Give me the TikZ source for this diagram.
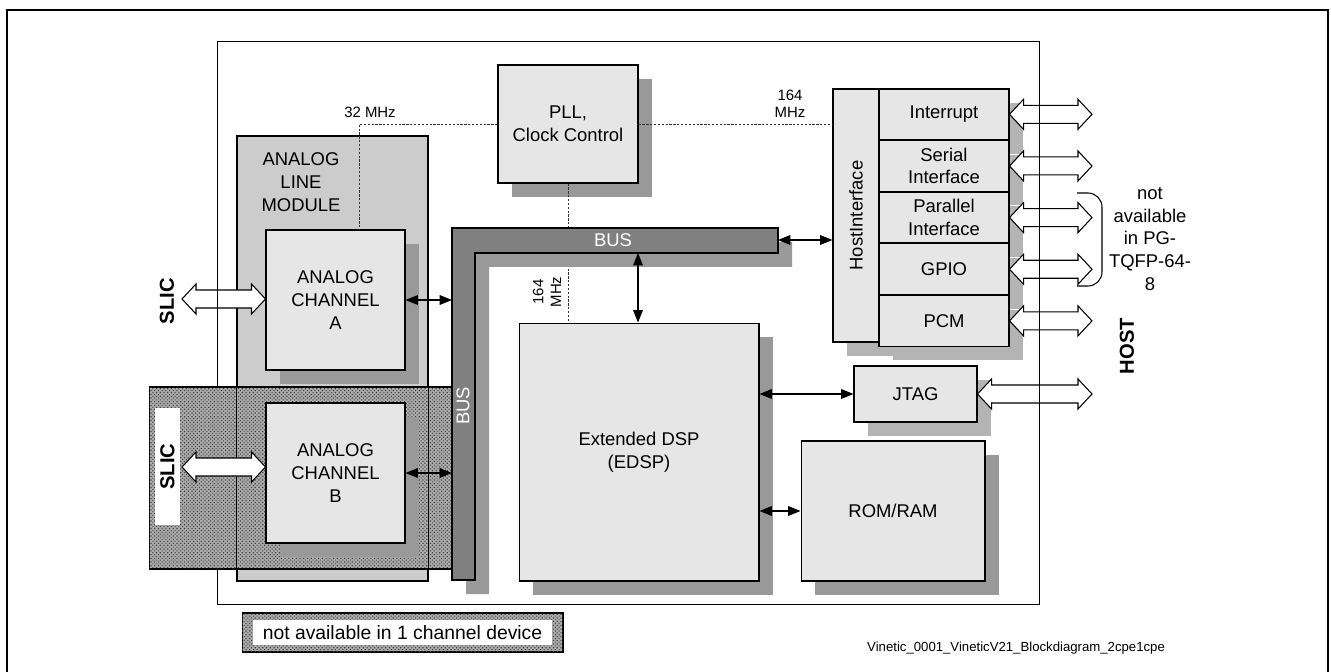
\documentclass[tikz,border=0pt]{standalone}
\definecolor{boxGray}{RGB}{230,230,230}
\definecolor{moduleGray}{RGB}{204,204,204}
\definecolor{shadowDark}{RGB}{153,153,153}
\definecolor{shadowLight}{RGB}{180,180,180}
\definecolor{busGray}{RGB}{128,128,128}
\usepackage{fontspec}
\setmainfont{Liberation Sans}
\usepackage{tikz}
\usetikzlibrary{arrows.meta,positioning,calc,shadows,patterns.meta}

\begin{document}
\begin{tikzpicture}[x=0.02cm, y=-0.02cm,
        block/.style={draw, fill=boxGray, semithick, inner sep=1pt, align=center,
          font=\fontsize{10.5}{13}\selectfont,
          drop shadow={shadow xshift=0.28cm, shadow yshift=-0.28cm, opacity=1, fill=#1}},
        block/.default=shadowDark,
        hostrow/.style={block=shadowLight, minimum width=2.6cm, minimum height=1.012cm},
        hatched/.style={draw, semithick, fill=black!33,
          postaction={pattern={Dots[distance=1.5pt, radius=0.45pt, angle=45]}, pattern color=black!75}},
        clk/.style={dash pattern=on 1.3pt off 0.9pt, line width=0.55pt, black!80},
        link/.style={<->, semithick},
        fatarrow/.style={draw, fill=white, semithick, to path={
          -- ($(\tikztostart)+(14,-15)$) -- ($(\tikztostart)+(14,-9)$)
          -- ($(\tikztotarget)+(-14,-9)$) -- ($(\tikztotarget)+(-14,-15)$)
          -- (\tikztotarget)
          -- ($(\tikztotarget)+(-14,15)$) -- ($(\tikztotarget)+(-14,9)$)
          -- ($(\tikztostart)+(14,9)$) -- ($(\tikztostart)+(14,15)$) -- cycle}},
        lbl/.style={font=\fontsize{10.5}{13}\selectfont, align=center},
        small/.style={font=\fontsize{8.5}{10}\selectfont, align=center},
        sideLbl/.style={font=\fontsize{11.5}{13}\selectfont\bfseries, rotate=90},
        >={Triangle[length=7pt, width=5.5pt]}
      ]
        \useasboundingbox (0,0) rectangle (1331,672);
        \draw[thick] (7,672) -- (7,10) -- (1328,10) -- (1328,672);
        \node[minimum width=16.42cm, minimum height=11.24cm] (chip) at (628.5,323) {};

        % Analog line module
        \node[draw, semithick, fill=moduleGray, minimum width=3.82cm, minimum height=8.9cm] (alm) at (332.5,358.5) {};
        \node[lbl] (almtxt) at (301,182) {ANALOG\\LINE\\MODULE};
        \node[block, minimum width=2.78cm, minimum height=2.8cm] (chA) at (335.5,300) {ANALOG\\CHANNEL\\A};

        % Channel B (not in 1 channel device)
        \node[hatched, minimum width=6.06cm, minimum height=3.64cm] (hatch) at (300.5,478) {};
        \draw[semithick] (alm.north west) rectangle (alm.south east);
        \node[fill=white, minimum width=0.5cm, minimum height=2.34cm] (slicbox) at (167.5,466.5) {};
        \node[sideLbl] (slicBtxt) at (slicbox) {SLIC};
        \node[block, minimum width=2.78cm, minimum height=2.8cm] (chB) at (335.5,473) {ANALOG\\CHANNEL\\B};

        % Clock lines
        \coordinate (clkA) at (359,124);
        \node[block, minimum width=2.8cm, minimum height=2.36cm] (pll) at (568,124) {PLL,\\Clock Control};
        \draw[clk] (pll.west) -- (clkA) -- (clkA |- chA.north);
        \draw[clk] (pll.south) -- (pll.south |- 0,323);
        \node[small] (clk32) at (370,112) {32 MHz};
        \node[small] (clk164) at (790,104) {164\\MHz};
        \node[small, rotate=90] (clk164b) at (547,292) {164\\MHz};

        % Bus
        \draw[semithick, fill=busGray, drop shadow={shadow xshift=0.28cm, shadow yshift=-0.28cm, opacity=1, fill=shadowDark}]
          (452,228) -- (778,228) -- (778,253) -- (475,253) -- (475,580) -- (452,580) -- cycle;
        \node[lbl, text=white] (busH) at (613,240) {BUS};
        \node[lbl, text=white, rotate=90] (busV) at (463,406) {BUS};
        \coordinate (busEnd) at (778,240);
        \coordinate (busDrop) at (638,253);
        \coordinate (busLeft) at (452,0);

        % DSP and memories
        \node[block, minimum width=4.8cm, minimum height=5.16cm] (edsp) at (639,452) {Extended DSP\\(EDSP)};
        \node[block=shadowLight, minimum width=2.46cm, minimum height=1.12cm] (jtag) at (915.5,394) {JTAG};
        \node[block, minimum width=3.68cm, minimum height=2.8cm] (rom) at (893,511) {ROM/RAM};

        % Host interface
        \node[block=shadowLight, minimum width=0.92cm, minimum height=5.06cm] (hif) at (856,215.5) {};
        \node[lbl, rotate=90] (hiftxt) at (hif) {HostInterface};
        \node[hostrow] (intr) at (944,114.3) {Interrupt};
        \node[hostrow, below=0pt of intr] (ser) {Serial\\Interface};
        \node[hostrow, below=0pt of ser] (par) {Parallel\\Interface};
        \node[hostrow, below=0pt of par] (gpio) {GPIO};
        \node[hostrow, below=0pt of gpio] (pcm) {PCM};
        \draw[clk] (pll.east) -- (pll.east -| hif.west);

        % Internal links
        \draw[link] (busEnd) -- (busEnd -| hif.west);
        \draw[link] (busDrop) -- (busDrop |- edsp.north);
        \draw[link] (chA.east) -- (chA.east -| busLeft);
        \draw[link] (chB.east) -- (chB.east -| busLeft);
        \draw[link] (edsp.east |- jtag.west) -- (jtag.west);
        \draw[link] (edsp.east |- rom.west) -- (rom.west);

        % External ports
        \coordinate (slicA) at (182,299);
        \coordinate (slicB) at (182,467);
        \coordinate (hostSide) at (1092,0);
        \draw[fatarrow] (slicA) to (slicA -| chA.west);
        \draw[fatarrow] (slicB) to (slicB -| chB.west);
        \draw[fatarrow] (intr.east) to (intr.east -| hostSide);
        \draw[fatarrow] (ser.east) to (ser.east -| hostSide);
        \draw[fatarrow] (par.east) to (par.east -| hostSide);
        \draw[fatarrow] (gpio.east) to (gpio.east -| hostSide);
        \draw[fatarrow] (pcm.east) to (pcm.east -| hostSide);
        \draw[fatarrow] (jtag.east) to (jtag.east -| hostSide);

        % Chip outline
        \draw[semithick] (chip.north west |- hatch.north) -- (chip.north west) -- (chip.north east)
          -- (chip.south east) -- (chip.south west) -- (chip.south west |- hatch.south);

        \node[sideLbl] (slicAtxt) at (167,301) {SLIC};
        \node[sideLbl] (hostTxt) at (1127,346) {HOST};
        \draw[semithick, rounded corners=8pt] (1077,193) -- (1102,193) -- (1102,286) -- (1077,286);
        \node[lbl] (pkgNote) at (1150,239) {not\\available\\in PG-\\TQFP-64-\\8};

        % Legend
        \node[hatched, minimum width=6.42cm, minimum height=0.78cm] (legend) at (402.5,632.5) {};
        \node[fill=white, minimum width=5.98cm, minimum height=0.5cm, inner sep=0pt,
          font=\fontsize{11}{13}\selectfont] (legendTxt) at (legend) {not available in 1 channel device};
        \node[anchor=west, font=\fontsize{7.5}{9}\selectfont] (fileName) at (861,648)
          {Vinetic\_0001\_VineticV21\_Blockdiagram\_2cpe1cpe};
      \end{tikzpicture}
\end{document}
